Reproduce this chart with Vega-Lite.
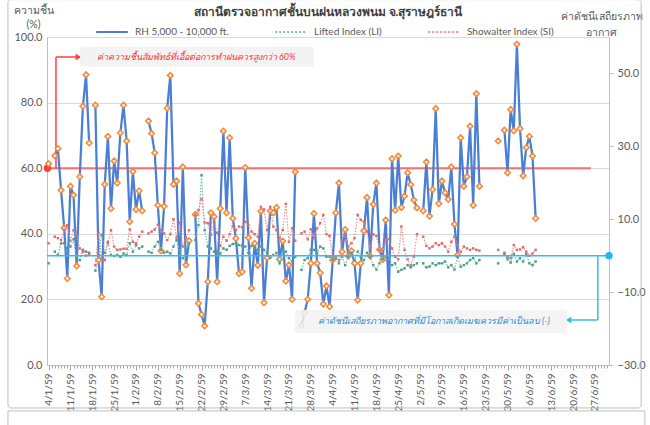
{
  "$schema": "https://vega.github.io/schema/vega-lite/v6.json",
  "width": 562,
  "height": 328,
  "autosize": {"type": "none"},
  "padding": {"left": 47, "top": 37, "right": 41, "bottom": 60},
  "background": "white",
  "config": {
    "view": {"stroke": null},
    "font": "Lato",
    "axis": {"labelFont": "Lato", "titleFont": "Lato"},
    "legend": {"labelFont": "Lato"}
  },
  "title": {
    "text": "สถานีตรวจอากาศชั้นบนฝนหลวงพนม จ.สุราษฎร์ธานี",
    "anchor": "middle",
    "fontSize": 12,
    "fontWeight": "bold",
    "color": "#404040",
    "offset": -20
  },
  "datasets": {
    "obs": [
      {"date": "2016-01-04", "rh": 61.4, "li": -2.1, "si": 3.4},
      {"date": "2016-01-05", "rh": null, "li": null, "si": null},
      {"date": "2016-01-06", "rh": 63.8, "li": 1.1, "si": 5.2},
      {"date": "2016-01-07", "rh": 66.0, "li": 0.2, "si": 4.8},
      {"date": "2016-01-08", "rh": 53.3, "li": 3.4, "si": 4.3},
      {"date": "2016-01-09", "rh": 41.8, "li": 3.4, "si": 7.0},
      {"date": "2016-01-10", "rh": 26.4, "li": 2.0, "si": 8.4},
      {"date": "2016-01-11", "rh": 54.5, "li": 2.5, "si": 4.1},
      {"date": "2016-01-12", "rh": 51.8, "li": 4.5, "si": 7.0},
      {"date": "2016-01-13", "rh": 30.2, "li": -0.7, "si": 5.4},
      {"date": "2016-01-14", "rh": 57.4, "li": -1.2, "si": 2.0},
      {"date": "2016-01-15", "rh": 78.9, "li": 1.6, "si": 1.1},
      {"date": "2016-01-16", "rh": 88.5, "li": 1.1, "si": 0.0},
      {"date": "2016-01-17", "rh": 67.7, "li": 0.8, "si": 0.2},
      {"date": "2016-01-18", "rh": null, "li": null, "si": null},
      {"date": "2016-01-19", "rh": 79.2, "li": -4.1, "si": -2.6},
      {"date": "2016-01-20", "rh": 32.0, "li": 0.2, "si": 6.3},
      {"date": "2016-01-21", "rh": 20.8, "li": 5.7, "si": -0.7},
      {"date": "2016-01-22", "rh": 55.1, "li": 0.8, "si": -1.2},
      {"date": "2016-01-23", "rh": 69.7, "li": 3.8, "si": 3.4},
      {"date": "2016-01-24", "rh": 47.7, "li": 0.2, "si": 7.0},
      {"date": "2016-01-25", "rh": 62.2, "li": -0.1, "si": 2.5},
      {"date": "2016-01-26", "rh": 55.5, "li": 0.2, "si": 1.6},
      {"date": "2016-01-27", "rh": 70.8, "li": -0.3, "si": 1.7},
      {"date": "2016-01-28", "rh": 79.2, "li": 0.6, "si": 1.9},
      {"date": "2016-01-29", "rh": 68.3, "li": 0.2, "si": 1.9},
      {"date": "2016-01-30", "rh": 43.7, "li": 3.4, "si": 7.2},
      {"date": "2016-01-31", "rh": 59.0, "li": 1.1, "si": 3.8},
      {"date": "2016-02-01", "rh": 47.4, "li": 2.9, "si": 3.4},
      {"date": "2016-02-02", "rh": 53.1, "li": 2.0, "si": 5.2},
      {"date": "2016-02-03", "rh": 47.0, "li": 2.5, "si": 6.6},
      {"date": "2016-02-04", "rh": null, "li": null, "si": null},
      {"date": "2016-02-05", "rh": 74.4, "li": 1.1, "si": 6.1},
      {"date": "2016-02-06", "rh": 70.6, "li": 0.8, "si": 6.6},
      {"date": "2016-02-07", "rh": 64.7, "li": 2.5, "si": 7.2},
      {"date": "2016-02-08", "rh": 48.7, "li": 3.8, "si": 8.5},
      {"date": "2016-02-09", "rh": 34.8, "li": 1.6, "si": 7.0},
      {"date": "2016-02-10", "rh": 48.4, "li": 0.8, "si": 6.1},
      {"date": "2016-02-11", "rh": 78.3, "li": 1.1, "si": 4.3},
      {"date": "2016-02-12", "rh": 88.3, "li": 0.6, "si": 5.9},
      {"date": "2016-02-13", "rh": 55.1, "li": 2.5, "si": 10.0},
      {"date": "2016-02-14", "rh": 56.1, "li": 4.3, "si": 5.0},
      {"date": "2016-02-15", "rh": 27.9, "li": 1.1, "si": 9.1},
      {"date": "2016-02-16", "rh": 60.4, "li": -0.7, "si": 2.5},
      {"date": "2016-02-17", "rh": 30.5, "li": 1.6, "si": 5.0},
      {"date": "2016-02-18", "rh": 37.9, "li": 3.4, "si": 7.0},
      {"date": "2016-02-19", "rh": null, "li": null, "si": null},
      {"date": "2016-02-20", "rh": 45.9, "li": 4.3, "si": 11.2},
      {"date": "2016-02-21", "rh": 18.8, "li": 8.4, "si": 12.5},
      {"date": "2016-02-22", "rh": 15.4, "li": 22.1, "si": 15.5},
      {"date": "2016-02-23", "rh": 11.9, "li": 7.0, "si": 9.1},
      {"date": "2016-02-24", "rh": 25.4, "li": 2.5, "si": 8.9},
      {"date": "2016-02-25", "rh": 46.4, "li": 2.0, "si": 5.7},
      {"date": "2016-02-26", "rh": 45.2, "li": 1.1, "si": 9.1},
      {"date": "2016-02-27", "rh": 25.4, "li": 1.1, "si": 6.3},
      {"date": "2016-02-28", "rh": 47.7, "li": 0.6, "si": 2.7},
      {"date": "2016-02-29", "rh": 71.3, "li": 2.0, "si": 5.2},
      {"date": "2016-03-01", "rh": 46.4, "li": 1.6, "si": 4.1},
      {"date": "2016-03-02", "rh": 69.3, "li": 2.7, "si": 5.9},
      {"date": "2016-03-03", "rh": 44.7, "li": 3.2, "si": 8.1},
      {"date": "2016-03-04", "rh": 38.6, "li": 3.4, "si": 7.0},
      {"date": "2016-03-05", "rh": 27.9, "li": 2.9, "si": 8.0},
      {"date": "2016-03-06", "rh": 28.4, "li": 2.7, "si": 7.8},
      {"date": "2016-03-07", "rh": 60.2, "li": 2.5, "si": 9.3},
      {"date": "2016-03-08", "rh": 38.8, "li": 0.8, "si": 8.4},
      {"date": "2016-03-09", "rh": 23.4, "li": 2.7, "si": 6.6},
      {"date": "2016-03-10", "rh": 37.1, "li": 2.0, "si": 5.9},
      {"date": "2016-03-11", "rh": 30.4, "li": 1.6, "si": 5.2},
      {"date": "2016-03-12", "rh": 46.9, "li": 2.5, "si": 13.4},
      {"date": "2016-03-13", "rh": 19.0, "li": 1.6, "si": 12.7},
      {"date": "2016-03-14", "rh": 32.7, "li": 0.6, "si": 7.0},
      {"date": "2016-03-15", "rh": 47.0, "li": -0.6, "si": 13.4},
      {"date": "2016-03-16", "rh": 46.4, "li": 0.2, "si": 8.0},
      {"date": "2016-03-17", "rh": 48.0, "li": 0.8, "si": 7.0},
      {"date": "2016-03-18", "rh": 32.2, "li": -2.1, "si": 4.8},
      {"date": "2016-03-19", "rh": 37.8, "li": 1.6, "si": 7.0},
      {"date": "2016-03-20", "rh": 25.6, "li": 1.1, "si": 14.2},
      {"date": "2016-03-21", "rh": 30.5, "li": -0.7, "si": 3.8},
      {"date": "2016-03-22", "rh": 20.0, "li": -1.6, "si": 7.5},
      {"date": "2016-03-23", "rh": 58.9, "li": -0.3, "si": 4.1},
      {"date": "2016-03-24", "rh": null, "li": null, "si": null},
      {"date": "2016-03-25", "rh": 11.9, "li": -3.9, "si": 6.1},
      {"date": "2016-03-26", "rh": 16.0, "li": -1.2, "si": 6.6},
      {"date": "2016-03-27", "rh": 20.0, "li": -0.7, "si": 4.5},
      {"date": "2016-03-28", "rh": 31.0, "li": 1.6, "si": 7.2},
      {"date": "2016-03-29", "rh": 46.2, "li": 1.6, "si": 4.8},
      {"date": "2016-03-30", "rh": 31.0, "li": 0.6, "si": 7.5},
      {"date": "2016-03-31", "rh": 28.1, "li": 2.5, "si": 8.9},
      {"date": "2016-04-01", "rh": 18.6, "li": 2.0, "si": 11.2},
      {"date": "2016-04-02", "rh": 24.1, "li": -0.3, "si": 5.9},
      {"date": "2016-04-03", "rh": 17.8, "li": -0.3, "si": 5.4},
      {"date": "2016-04-04", "rh": 32.0, "li": -1.2, "si": -0.3},
      {"date": "2016-04-05", "rh": 46.4, "li": -0.7, "si": -0.3},
      {"date": "2016-04-06", "rh": 55.5, "li": -2.1, "si": -1.2},
      {"date": "2016-04-07", "rh": 34.5, "li": -0.3, "si": 4.3},
      {"date": "2016-04-08", "rh": 41.3, "li": -2.6, "si": 5.9},
      {"date": "2016-04-09", "rh": 33.2, "li": -0.3, "si": 2.5},
      {"date": "2016-04-10", "rh": 34.8, "li": 0.8, "si": 3.4},
      {"date": "2016-04-11", "rh": 31.0, "li": -1.2, "si": 4.8},
      {"date": "2016-04-12", "rh": 19.8, "li": 1.1, "si": 11.2},
      {"date": "2016-04-13", "rh": 31.0, "li": -0.3, "si": 9.8},
      {"date": "2016-04-14", "rh": 40.9, "li": -1.2, "si": 9.3},
      {"date": "2016-04-15", "rh": 51.1, "li": 0.8, "si": 6.6},
      {"date": "2016-04-16", "rh": 33.2, "li": -0.3, "si": 2.0},
      {"date": "2016-04-17", "rh": 49.0, "li": -2.6, "si": 5.9},
      {"date": "2016-04-18", "rh": 55.5, "li": -3.8, "si": 5.4},
      {"date": "2016-04-19", "rh": 35.2, "li": -2.1, "si": 1.6},
      {"date": "2016-04-20", "rh": 32.1, "li": -1.0, "si": 1.0},
      {"date": "2016-04-21", "rh": 44.2, "li": -0.3, "si": 4.5},
      {"date": "2016-04-22", "rh": 21.3, "li": -0.3, "si": 4.5},
      {"date": "2016-04-23", "rh": 62.9, "li": -2.6, "si": 2.0},
      {"date": "2016-04-24", "rh": 47.2, "li": -2.1, "si": -0.3},
      {"date": "2016-04-25", "rh": 63.7, "li": -4.4, "si": -1.0},
      {"date": "2016-04-26", "rh": 48.0, "li": -3.9, "si": 8.0},
      {"date": "2016-04-27", "rh": 51.5, "li": -3.5, "si": 1.6},
      {"date": "2016-04-28", "rh": 58.6, "li": -2.6, "si": -1.0},
      {"date": "2016-04-29", "rh": 55.0, "li": -3.2, "si": -2.6},
      {"date": "2016-04-30", "rh": 50.3, "li": -2.6, "si": -0.3},
      {"date": "2016-05-01", "rh": 47.9, "li": -2.1, "si": 5.9},
      {"date": "2016-05-02", "rh": null, "li": null, "si": null},
      {"date": "2016-05-03", "rh": 47.0, "li": -2.1, "si": 5.2},
      {"date": "2016-05-04", "rh": 61.9, "li": -3.2, "si": 2.7},
      {"date": "2016-05-05", "rh": 45.4, "li": -3.0, "si": 2.0},
      {"date": "2016-05-06", "rh": 53.5, "li": -2.1, "si": 2.5},
      {"date": "2016-05-07", "rh": 78.2, "li": -2.6, "si": 3.4},
      {"date": "2016-05-08", "rh": 49.2, "li": -2.1, "si": 2.9},
      {"date": "2016-05-09", "rh": 56.1, "li": -2.1, "si": 3.4},
      {"date": "2016-05-10", "rh": 52.5, "li": -1.6, "si": 2.5},
      {"date": "2016-05-11", "rh": 50.5, "li": -3.2, "si": 1.1},
      {"date": "2016-05-12", "rh": 60.4, "li": -2.6, "si": 3.8},
      {"date": "2016-05-13", "rh": 42.9, "li": -3.8, "si": 5.2},
      {"date": "2016-05-14", "rh": 33.5, "li": -0.3, "si": 2.9},
      {"date": "2016-05-15", "rh": 69.3, "li": -3.0, "si": 1.1},
      {"date": "2016-05-16", "rh": 54.5, "li": -2.6, "si": 2.5},
      {"date": "2016-05-17", "rh": 57.4, "li": -2.1, "si": 2.0},
      {"date": "2016-05-18", "rh": 72.8, "li": -1.2, "si": 1.6},
      {"date": "2016-05-19", "rh": 48.7, "li": -0.7, "si": 2.0},
      {"date": "2016-05-20", "rh": 82.7, "li": -2.1, "si": 1.6},
      {"date": "2016-05-21", "rh": 54.5, "li": -1.2, "si": 1.4},
      {"date": "2016-05-22", "rh": null, "li": null, "si": null},
      {"date": "2016-05-23", "rh": null, "li": null, "si": null},
      {"date": "2016-05-24", "rh": null, "li": null, "si": null},
      {"date": "2016-05-25", "rh": null, "li": null, "si": null},
      {"date": "2016-05-26", "rh": null, "li": null, "si": null},
      {"date": "2016-05-27", "rh": 68.3, "li": -2.1, "si": 1.6},
      {"date": "2016-05-28", "rh": null, "li": null, "si": null},
      {"date": "2016-05-29", "rh": 71.6, "li": 0.5, "si": 0.8},
      {"date": "2016-05-30", "rh": 58.6, "li": -1.0, "si": -0.3},
      {"date": "2016-05-31", "rh": 77.9, "li": -1.9, "si": -0.7},
      {"date": "2016-06-01", "rh": 71.4, "li": 0.5, "si": 2.9},
      {"date": "2016-06-02", "rh": 97.8, "li": -1.6, "si": 1.6},
      {"date": "2016-06-03", "rh": 72.1, "li": -0.7, "si": 1.7},
      {"date": "2016-06-04", "rh": 57.7, "li": -1.6, "si": 2.3},
      {"date": "2016-06-05", "rh": 66.3, "li": 0.5, "si": 1.1},
      {"date": "2016-06-06", "rh": 69.7, "li": -2.1, "si": 0.0},
      {"date": "2016-06-07", "rh": 63.7, "li": -2.6, "si": 0.6},
      {"date": "2016-06-08", "rh": 44.7, "li": -1.6, "si": 1.6}
    ]
  },
  "layer": [
    {
      "layer": [
        {
          "data": {"values": [{}]},
          "mark": {"type": "rect", "fill": null, "stroke": "#BFBFBF", "strokeWidth": 1, "cornerRadius": 3},
          "encoding": {
            "x": {"datum": {"year": 2015, "month": 12, "date": 22, "utc": true}, "type": "temporal"},
            "x2": {"datum": {"year": 2016, "month": 7, "date": 11, "hours": 19, "utc": true}},
            "y": {"datum": -13.1, "type": "quantitative"},
            "y2": {"datum": 111.4}
          }
        },
        {
          "data": {"values": [{}]},
          "mark": {"type": "rect", "fill": null, "stroke": "#BFBFBF", "strokeWidth": 1},
          "encoding": {
            "x": {"datum": {"year": 2015, "month": 12, "date": 22, "utc": true}, "type": "temporal"},
            "x2": {"datum": {"year": 2016, "month": 7, "date": 13, "utc": true}},
            "y": {"datum": -14.0, "type": "quantitative"},
            "y2": {"datum": -25}
          }
        },
        {
          "data": {"values": [{}]},
          "mark": {"type": "rule", "color": "#FF6B6B", "strokeWidth": 2},
          "encoding": {
            "x": {"datum": {"year": 2016, "month": 1, "date": 3, "hours": 12, "utc": true}, "type": "temporal"},
            "x2": {"datum": {"year": 2016, "month": 6, "date": 25, "hours": 17, "utc": true}},
            "y": {"datum": 60, "type": "quantitative"}
          }
        },
        {
          "data": {"values": [{}]},
          "mark": {"type": "rule", "color": "#FF4040", "strokeWidth": 1.5},
          "encoding": {
            "x": {"datum": {"year": 2016, "month": 1, "date": 6, "hours": 9, "utc": true}, "type": "temporal"},
            "y": {"datum": 60, "type": "quantitative"},
            "y2": {"datum": 93.9}
          }
        },
        {
          "data": {"values": [{}]},
          "mark": {"type": "rule", "color": "#FF4040", "strokeWidth": 1.5},
          "encoding": {
            "x": {"datum": {"year": 2016, "month": 1, "date": 6, "hours": 9, "utc": true}, "type": "temporal"},
            "x2": {"datum": {"year": 2016, "month": 1, "date": 12, "hours": 19, "utc": true}},
            "y": {"datum": 93.9, "type": "quantitative"}
          }
        },
        {
          "data": {"values": [{}]},
          "mark": {"type": "point", "shape": "triangle-right", "filled": true, "color": "#FF4040", "size": 45, "opacity": 1},
          "encoding": {
            "x": {"datum": {"year": 2016, "month": 1, "date": 13, "hours": 14, "utc": true}, "type": "temporal"},
            "y": {"datum": 93.9, "type": "quantitative"}
          }
        },
        {
          "data": {"values": [{}]},
          "mark": {"type": "point", "shape": "circle", "filled": true, "color": "#FF3B3B", "size": 55, "opacity": 1},
          "encoding": {
            "x": {"datum": {"year": 2016, "month": 1, "date": 3, "hours": 15, "utc": true}, "type": "temporal"},
            "y": {"datum": 60, "type": "quantitative"}
          }
        },
        {
          "data": {"values": [{}]},
          "mark": {"type": "rect", "fill": "#F2F2F2", "opacity": 0.9, "cornerRadius": 2},
          "encoding": {
            "x": {"datum": {"year": 2016, "month": 1, "date": 14, "hours": 2, "utc": true}, "type": "temporal"},
            "x2": {"datum": {"year": 2016, "month": 3, "date": 29, "utc": true}},
            "y": {"datum": 97.0, "type": "quantitative"},
            "y2": {"datum": 90.9}
          }
        },
        {
          "data": {"values": [{}]},
          "mark": {"type": "text", "text": "ค่าความชื้นสัมพัทธ์ที่เอื้อต่อการทำฝนควรสูงกว่า 60%", "align": "left", "baseline": "middle", "fontStyle": "italic", "fontSize": 9, "color": "#FF3333"},
          "encoding": {
            "x": {"datum": {"year": 2016, "month": 1, "date": 19, "hours": 12, "utc": true}, "type": "temporal"},
            "y": {"datum": 93.9, "type": "quantitative"}
          }
        },
        {
          "data": {"name": "obs"},
          "mark": {"type": "line", "strokeWidth": 2.25, "invalid": "break-paths-filter-domains"},
          "encoding": {
            "x": {
              "field": "date",
              "type": "temporal",
              "scale": {
                "type": "utc",
                "domain": [
                  {"year": 2016, "month": 1, "date": 3, "hours": 12, "utc": true},
                  {"year": 2016, "month": 7, "date": 1, "hours": 12, "utc": true}
                ]
              },
              "axis": {
                "orient": "bottom",
                "title": null,
                "grid": false,
                "tickCount": {"interval": "day", "step": 1},
                "labelExpr": "round((datum.value - utc(2016,0,4)) / 86400000) % 7 === 0 ? utcFormat(datum.value, '%-d/%-m/') + '59' : ''",
                "labelAngle": 270,
                "labelOverlap": false,
                "labelFlush": false,
                "labelBound": false,
                "labelFontSize": 10,
                "labelColor": "#595959",
                "labelPadding": 3,
                "tickColor": "#A6A6A6",
                "tickSize": {"condition": {"test": "round((datum.value - utc(2016,0,4)) / 86400000) % 7 === 0", "value": 5}, "value": 3},
                "domainColor": "#BFBFBF"
              }
            },
            "y": {
              "field": "rh",
              "type": "quantitative",
              "scale": {"domain": [0, 100], "nice": false, "zero": false},
              "axis": {
                "orient": "left",
                "values": [0, 10, 20, 30, 40, 50, 60, 70, 80, 90, 100],
                "format": ".1f",
                "title": ["ความชื้น", "(%)"],
                "titleAngle": 0,
                "titleAlign": "center",
                "titleBaseline": "bottom",
                "titleX": -14,
                "titleY": -22,
                "titleFontSize": 10.5,
                "titleFontWeight": "normal",
                "titleColor": "#595959",
                "titleLineHeight": 14,
                "labelColor": "#595959",
                "labelFontSize": 11,
                "labelPadding": 5,
                "ticks": false,
                "domainColor": "#BFBFBF",
                "grid": true,
                "gridColor": "#D9D9D9"
              }
            },
            "color": {
              "datum": "RH 5,000 - 10,000 ft.",
              "type": "nominal",
              "scale": {
                "domain": ["RH 5,000 - 10,000 ft.", "Lifted Index (LI)", "Showalter Index (SI)"],
                "range": ["#4A7FD4", "#74BDB2", "#F08C8C"]
              },
              "legend": {
                "orient": "none",
                "legendX": 48,
                "legendY": -22,
                "direction": "horizontal",
                "title": null,
                "symbolType": "stroke",
                "symbolSize": 1000,
                "symbolStrokeWidth": 2,
                "labelFontSize": 10,
                "labelColor": "#595959",
                "labelOffset": 6,
                "columnPadding": 42,
                "encode": {
                  "symbols": {
                    "update": {
                      "strokeDash": {"signal": "datum.value === 'RH 5,000 - 10,000 ft.' ? null : [2, 2]"}
                    }
                  }
                }
              }
            }
          }
        },
        {
          "data": {"name": "obs"},
          "mark": {"type": "point", "shape": "diamond", "filled": true, "fill": "#FDEBDD", "stroke": "#F08A3C", "strokeWidth": 1.5, "size": 32, "opacity": 1},
          "encoding": {
            "x": {"field": "date", "type": "temporal"},
            "y": {"field": "rh", "type": "quantitative"}
          }
        }
      ]
    },
    {
      "layer": [
        {
          "data": {"name": "obs"},
          "mark": {"type": "line", "strokeWidth": 1.2, "strokeDash": [1.5, 1.5], "invalid": "break-paths-filter-domains"},
          "encoding": {
            "x": {"field": "date", "type": "temporal"},
            "y": {
              "field": "li",
              "type": "quantitative",
              "scale": {"domain": [-30, 60], "nice": false, "zero": false},
              "axis": {
                "orient": "right",
                "values": [-30, -20, -10, 0, 10, 20, 30, 40, 50, 60],
                "format": ".1f",
                "title": ["ค่าดัชนีเสถียรภาพ", "อากาศ"],
                "titleAngle": 0,
                "titleAlign": "center",
                "titleBaseline": "bottom",
                "titleX": -8,
                "titleY": -16,
                "titleFontSize": 10.5,
                "titleFontWeight": "normal",
                "titleColor": "#595959",
                "titleLineHeight": 16,
                "labelColor": "#595959",
                "labelFontSize": 11,
                "labelPadding": 4,
                "tickSize": 4,
                "tickColor": "#BFBFBF",
                "domainColor": "#BFBFBF",
                "grid": false
              }
            },
            "color": {"datum": "Lifted Index (LI)", "type": "nominal"}
          }
        },
        {
          "data": {"name": "obs"},
          "mark": {"type": "point", "shape": "square", "filled": true, "color": "#4E9E8A", "size": 6, "opacity": 1},
          "encoding": {
            "x": {"field": "date", "type": "temporal"},
            "y": {"field": "li", "type": "quantitative"}
          }
        },
        {
          "data": {"name": "obs"},
          "mark": {"type": "line", "strokeWidth": 1.2, "strokeDash": [1.5, 1.5], "invalid": "break-paths-filter-domains"},
          "encoding": {
            "x": {"field": "date", "type": "temporal"},
            "y": {"field": "si", "type": "quantitative"},
            "color": {"datum": "Showalter Index (SI)", "type": "nominal"}
          }
        },
        {
          "data": {"name": "obs"},
          "mark": {"type": "point", "shape": "square", "filled": true, "color": "#E46A6A", "size": 6, "opacity": 1},
          "encoding": {
            "x": {"field": "date", "type": "temporal"},
            "y": {"field": "si", "type": "quantitative"}
          }
        },
        {
          "data": {"values": [{}]},
          "mark": {"type": "rule", "color": "#33BDEF", "strokeWidth": 1.5},
          "encoding": {
            "x": {"datum": {"year": 2016, "month": 1, "date": 3, "hours": 12, "utc": true}, "type": "temporal"},
            "x2": {"datum": {"year": 2016, "month": 7, "date": 1, "hours": 12, "utc": true}},
            "y": {"datum": 0, "type": "quantitative"}
          }
        },
        {
          "data": {"values": [{}]},
          "mark": {"type": "rule", "color": "#33BDEF", "strokeWidth": 1.5},
          "encoding": {
            "x": {"datum": {"year": 2016, "month": 6, "date": 27, "hours": 22, "utc": true}, "type": "temporal"},
            "y": {"datum": 0, "type": "quantitative"},
            "y2": {"datum": -17.65}
          }
        },
        {
          "data": {"values": [{}]},
          "mark": {"type": "rule", "color": "#33BDEF", "strokeWidth": 1.5},
          "encoding": {
            "x": {"datum": {"year": 2016, "month": 6, "date": 27, "hours": 22, "utc": true}, "type": "temporal"},
            "x2": {"datum": {"year": 2016, "month": 6, "date": 19, "hours": 7, "utc": true}},
            "y": {"datum": -17.65, "type": "quantitative"}
          }
        },
        {
          "data": {"values": [{}]},
          "mark": {"type": "point", "shape": "triangle-left", "filled": true, "color": "#33BDEF", "size": 45, "opacity": 1},
          "encoding": {
            "x": {"datum": {"year": 2016, "month": 6, "date": 18, "hours": 12, "utc": true}, "type": "temporal"},
            "y": {"datum": -17.65, "type": "quantitative"}
          }
        },
        {
          "data": {"values": [{}]},
          "mark": {"type": "point", "shape": "circle", "filled": true, "color": "#29B6F0", "size": 55, "opacity": 1},
          "encoding": {
            "x": {"datum": {"year": 2016, "month": 7, "date": 1, "hours": 12, "utc": true}, "type": "temporal"},
            "y": {"datum": 0, "type": "quantitative"}
          }
        },
        {
          "data": {"values": [{}]},
          "mark": {"type": "rect", "fill": "#F2F2F2", "opacity": 0.85, "cornerRadius": 2},
          "encoding": {
            "x": {"datum": {"year": 2016, "month": 3, "date": 22, "hours": 22, "utc": true}, "type": "temporal"},
            "x2": {"datum": {"year": 2016, "month": 6, "date": 18, "hours": 2, "utc": true}},
            "y": {"datum": -14.9, "type": "quantitative"},
            "y2": {"datum": -21.2}
          }
        },
        {
          "data": {"values": [{}]},
          "mark": {"type": "text", "text": "ค่าดัชนีเสถียรภาพอากาศที่มีโอกาสเกิดเมฆควรมีค่าเป็นลบ (-)", "align": "left", "baseline": "middle", "fontStyle": "italic", "fontSize": 9, "color": "#1F8DD6"},
          "encoding": {
            "x": {"datum": {"year": 2016, "month": 3, "date": 30, "hours": 7, "utc": true}, "type": "temporal"},
            "y": {"datum": -18, "type": "quantitative"}
          }
        }
      ]
    }
  ],
  "resolve": {"scale": {"y": "independent"}}
}
